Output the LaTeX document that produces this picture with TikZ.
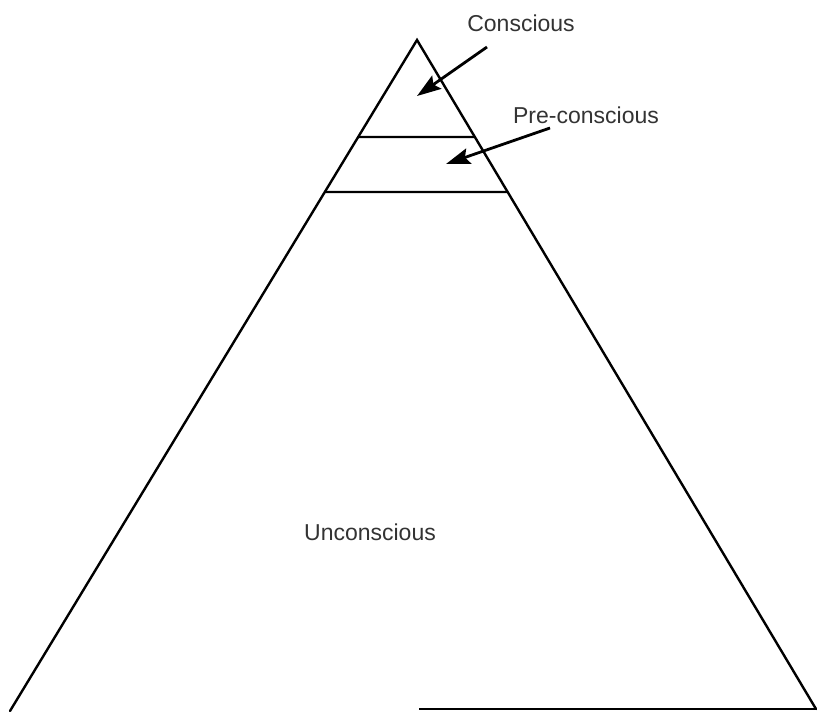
\documentclass[tikz,border=0pt]{standalone}
\usepackage{fontspec}
\setmainfont{Liberation Sans}
\usetikzlibrary{arrows.meta,calc,positioning}

\begin{document}
\begin{tikzpicture}[x=0.5pt, y=-0.5pt,
    edge/.style={line width=1.2pt, line cap=round},
    levelline/.style={line width=1.2pt},
    pointer/.style={line width=1.4pt, -{Stealth[length=12pt, width=8pt, inset=2pt]}},
    lbl/.style={font=\fontsize{11.5}{14}\selectfont, text=black!80, inner sep=0pt}
  ]
  \useasboundingbox[fill=white] (0,0) rectangle (817,711);

  % pyramid
  \coordinate (apex) at (417,40);
  \coordinate (baseL) at (10,711);
  \coordinate (baseR) at (816,709);
  \draw[edge] (baseL) -- (apex) -- (baseR);
  \draw[levelline] (419,709) coordinate (floorL) -- (817,709) coordinate (floorR);

  % level lines
  \coordinate (l1L) at ($(apex)!0.1446!(baseL)$);
  \coordinate (l1R) at ($(apex)!0.1450!(baseR)$);
  \coordinate (l2L) at ($(apex)!0.2265!(baseL)$);
  \coordinate (l2R) at ($(apex)!0.2272!(baseR)$);
  \draw[levelline] (l1L) -- (l1R);
  \draw[levelline] (l2L) -- (l2R);

  % labels
  \node[lbl] (conscious) at (521,23) {Conscious};
  \node[lbl] (preconscious) at (586,115) {Pre-conscious};
  \node[lbl] (unconscious) at (370,532) {Unconscious};

  % pointers
  \coordinate (cTail) at (487,47);
  \coordinate (cTip) at (417,96);
  \coordinate (pTail) at (550,128);
  \coordinate (pTip) at (446,164);
  \draw[pointer] (cTail) -- (cTip);
  \draw[pointer] (pTail) -- (pTip);
\end{tikzpicture}
\end{document}
